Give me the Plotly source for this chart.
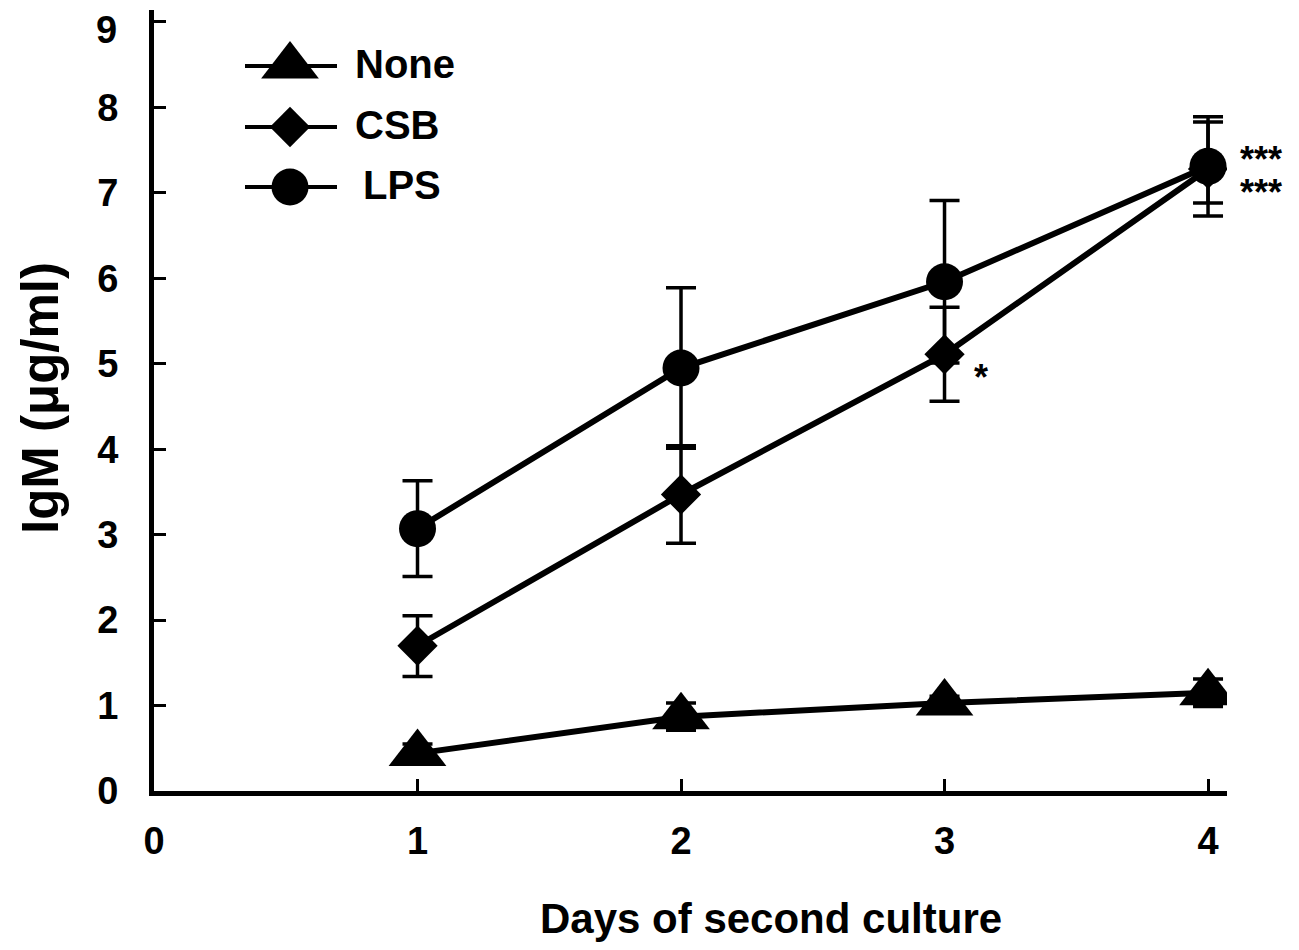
import plotly.graph_objects as go

# ---- data ----
days = [1, 2, 3, 4]
none_vals = [0.44, 0.87, 1.03, 1.15]
none_err = [0.11, 0.16, 0.08, 0.16]
csb_vals = [1.70, 3.47, 5.11, 7.28]
csb_err_plus = [0.35, 0.57, 0.55, 0.55]
csb_err_minus = [0.36, 0.57, 0.55, 0.40]
lps_vals = [3.07, 4.95, 5.96, 7.31]
lps_err = [0.56, 0.94, 0.95, 0.58]

x_ticks = [0, 1, 2, 3, 4]
y_ticks = [0, 1, 2, 3, 4, 5, 6, 7, 8, 9]
series_names = ["None", "CSB", "LPS"]
series_symbols = ["triangle-up", "diamond", "circle"]
series_sizes = [50, 31, 37]

FONT = "Liberation Sans, Arial, sans-serif"

# page has an 8px body margin; figure is sized to fit the window
OFF = 8
FW, FH = 1299 - 2 * OFF, 950 - 2 * OFF
# target plot-area edges in window pixels
PL, PR, PT, PB = 154, 1227, 10, 791
L, R, T, B = PL - OFF, FW - (PR - OFF), PT - OFF, FH - (PB - OFF)


def px(xp):
    return (xp - PL) / (PR - PL)


def py(yp):
    return (PB - yp) / (PB - PT)


fig = go.Figure()


def add_series(x, y, name, symbol, size, err_plus, err_minus):
    fig.add_trace(go.Scatter(
        x=x, y=y, name=name, mode="lines+markers",
        line=dict(color="black", width=6),
        marker=dict(symbol=symbol, size=size, color="black", line=dict(width=0)),
        error_y=dict(type="data", array=err_plus, arrayminus=err_minus,
                     symmetric=False, color="black", thickness=3.5, width=15),
        showlegend=False,
    ))


add_series(days, none_vals, series_names[0], series_symbols[0], series_sizes[0], none_err, none_err)
add_series(days, csb_vals, series_names[1], series_symbols[1], series_sizes[1], csb_err_plus, csb_err_minus)
add_series(days, lps_vals, series_names[2], series_symbols[2], series_sizes[2], lps_err, lps_err)

# ---- hand-drawn legend on an overlay axis (0..1 over the plot area) ----
leg_rows_px = [66, 127, 187]
for name, sym, sz, yp in zip(series_names, series_symbols, series_sizes, leg_rows_px):
    yy = py(yp)
    fig.add_trace(go.Scatter(
        x=[px(245), px(290), px(337)], y=[yy, yy, yy], mode="lines",
        line=dict(color="black", width=4), xaxis="x2", yaxis="y2",
        showlegend=False, hoverinfo="skip"))
    fig.add_trace(go.Scatter(
        x=[px(290)], y=[yy], mode="markers",
        marker=dict(symbol=sym, size=sz, color="black"), xaxis="x2", yaxis="y2",
        showlegend=False, hoverinfo="skip"))

leg_text_px = [(353, 64), (353, 125), (361, 185)]
for name, (xp, yp) in zip(series_names, leg_text_px):
    fig.add_annotation(x=px(xp), y=py(yp), xref="paper", yref="paper", text=name,
                       showarrow=False, xanchor="left", yanchor="middle",
                       font=dict(family=FONT, size=40, color="black", weight="bold"))

# significance marks
for txt, xp, yp in [("***", 1238, 160), ("***", 1238, 192), ("*", 972, 377)]:
    fig.add_annotation(x=px(xp), y=py(yp), xref="paper", yref="paper", text=txt,
                       showarrow=False, xanchor="left", yanchor="middle",
                       font=dict(family=FONT, size=36, color="black", weight="bold"))

# top y tick label is set slightly below its tick (as in the original) so it is not clipped
fig.add_annotation(x=px(119), y=py(30), xref="paper", yref="paper",
                   text=str(y_ticks[-1]), showarrow=False,
                   xanchor="right", yanchor="middle",
                   font=dict(family=FONT, size=38, color="black", weight="bold"))

# axis titles
fig.add_annotation(x=px(771), y=py(918), xref="paper", yref="paper",
                   text="Days of second culture", showarrow=False,
                   xanchor="center", yanchor="middle",
                   font=dict(family=FONT, size=42, color="black", weight="bold"))
fig.add_annotation(x=px(40), y=py(398), xref="paper", yref="paper",
                   text="IgM (μg/ml)", showarrow=False, textangle=-90,
                   xanchor="center", yanchor="middle",
                   font=dict(family=FONT, size=51, color="black", weight="bold"))

fig.update_layout(
    width=FW, height=FH,
    margin=dict(l=L, r=R, t=T, b=B, pad=0, autoexpand=False),
    paper_bgcolor="white", plot_bgcolor="white",
    showlegend=False,
    xaxis=dict(range=[0, 4.072], tickvals=x_ticks, ticktext=[str(v) for v in x_ticks],
               showgrid=False, zeroline=False, showline=True, linecolor="black",
               linewidth=5, ticks="inside", ticklen=12, tickwidth=3, tickcolor="black",
               ticklabelstandoff=12, ticklabeloverflow="allow", automargin=False,
               tickfont=dict(family=FONT, size=38, color="black", weight="bold")),
    yaxis=dict(range=[0, 9.14], tickvals=y_ticks,
               ticktext=[str(v) for v in y_ticks[:-1]] + [""],
               showgrid=False, zeroline=False, showline=True, linecolor="black",
               linewidth=5, ticks="inside", ticklen=12, tickwidth=3, tickcolor="black",
               ticklabelstandoff=23, ticklabeloverflow="allow", automargin=False,
               tickfont=dict(family=FONT, size=38, color="black", weight="bold")),
    xaxis2=dict(overlaying="x", range=[0, 1], visible=False, anchor="y2", fixedrange=True),
    yaxis2=dict(overlaying="y", range=[0, 1], visible=False, anchor="x2", fixedrange=True),
)

fig.write_html("out.html")
